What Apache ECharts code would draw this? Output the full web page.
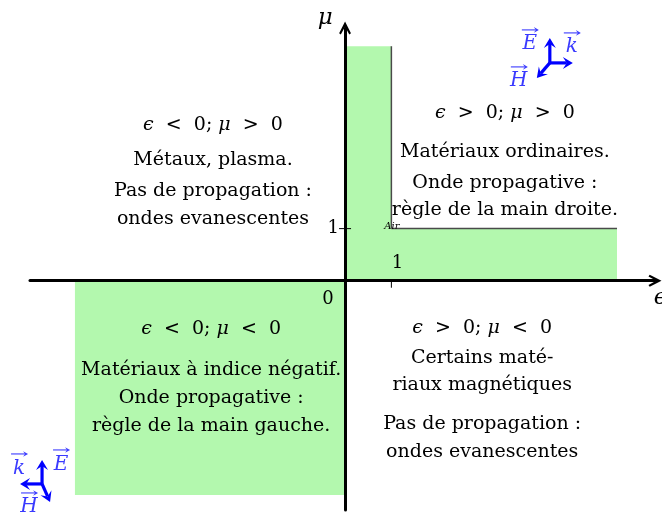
<!DOCTYPE html>
<html><head><meta charset="utf-8">
<script src="https://cdn.jsdelivr.net/npm/echarts@6/dist/echarts.min.js"></script>
<style>html,body{margin:0;padding:0;background:#fff}#c{width:662px;height:518px}</style>
</head><body><div id="c"></div>
<script>
// ---- data (in diagram units: x = epsilon, y = mu) ----
const xRange = [-6.8, 6.69];
const yRange = [-4.4, 4.85];
const greenRegions = [[0, 0, 1, 4.5], [0, 0, 5.87, 1], [-5.83, -4.11, 0, 0]];
const borderLines = [[1, 1, 1, 4.5], [1, 1, 5.87, 1]];
const conditionTexts = ['{i|ϵ}  <  0; {i|μ}  >  0', '{i|ϵ}  >  0; {i|μ}  >  0', '{i|ϵ}  <  0; {i|μ}  <  0', '{i|ϵ}  >  0; {i|μ}  <  0'];
const conditionPos = [[-2.85, 2.99], [3.45, 3.22], [-2.89, -0.93], [2.96, -0.91]];
const descriptionLines = [
  ['Métaux, plasma.', 'Pas de propagation :', 'ondes evanescentes'],
  ['Matériaux ordinaires.', 'Onde propagative :', 'règle de la main droite.'],
  ['Matériaux à indice négatif.', 'Onde propagative :', 'règle de la main gauche.'],
  ['Certains maté-', 'riaux magnétiques', 'Pas de propagation :', 'ondes evanescentes']
];
const descriptionY = [[2.32, 1.72, 1.18], [2.47, 1.88, 1.36], [-1.71, -2.25, -2.79], [-1.48, -2.0, -2.75, -3.29]];
const axisNames = [['μ', -0.43, 5.04], ['ϵ', 6.8, -0.33]];
const originLabel = ['0', -0.37, -0.35];
const tickLabels = [['1', 'y', 1], ['1', 'x', 1]];
const airLabel = ['Air', 1.01, 1.05];
const iconAnchors = [[4.42, 4.18, 'tr'], [-6.54, -3.90, 'bl']];

// ---- styles ----
const FONT = "'DejaVu Serif','Liberation Serif',serif";
const TXT = '#000';
const GREEN = '#b3f8ae';
const BLUE = '#0000ff';
const LBLUE = '#3a3aff';

const iconDefs = {
  tr: { arrows: [[0, -25], [23, 0], [-13, 15]],
        labels: [['E', -20, -19, -14], ['k', 22, -16, -14], ['H', -31, 18, -14]] },
  bl: { arrows: [[0, -24], [-22, 0], [8, 18]],
        labels: [['k', -23, -15, -15], ['E', 19, -19, -15], ['H', -13, 23, -14]] }
};

function arrowEls(ox, oy, tx, ty, color, w, hl, hw) {
  const dx = tx - ox, dy = ty - oy, L = Math.hypot(dx, dy);
  const ux = dx / L, uy = dy / L, px = -uy, py = ux;
  const bx = tx - ux * hl, by = ty - uy * hl;
  const nx = tx - ux * hl * 0.6, ny = ty - uy * hl * 0.6;
  return [
    { type: 'line', shape: { x1: ox, y1: oy, x2: nx, y2: ny }, style: { stroke: color, lineWidth: w } },
    { type: 'polygon', shape: { points: [[tx, ty], [bx + px * hw, by + py * hw], [nx, ny], [bx - px * hw, by - py * hw]] }, style: { fill: color } }
  ];
}

const textItems = [];
conditionTexts.forEach((t, i) => textItems.push({ pos: conditionPos[i], text: t, size: 19, align: 'center' }));
descriptionLines.forEach((lines, i) => lines.forEach((t, j) =>
  textItems.push({ pos: [conditionPos[i][0], descriptionY[i][j]], text: t, size: 19, align: 'center' })));
axisNames.forEach(a => textItems.push({ pos: [a[1], a[2]], text: '{i|' + a[0] + '}', size: 23, align: 'center' }));
textItems.push({ pos: [originLabel[1], originLabel[2]], text: originLabel[0], size: 18, align: 'center' });
textItems.push({ pos: [airLabel[1], airLabel[2]], text: '{s|' + airLabel[0] + '}', size: 10, align: 'center' });

const chart = echarts.init(document.getElementById('c'));
const arrowPath = 'path://M5,0 L10,10 L8.6,11 L5,4.5 L1.4,11 L0,10 Z';

chart.setOption({
  animation: false,
  grid: { left: 30, right: 7, top: 28, bottom: 8 },
  xAxis: {
    type: 'value', min: xRange[0], max: xRange[1], z: 10,
    axisLine: { onZero: true, lineStyle: { color: '#000', width: 3 }, symbol: ['none', arrowPath], symbolSize: [13, 13] },
    axisTick: { show: false }, axisLabel: { show: false }, splitLine: { show: false }
  },
  yAxis: {
    type: 'value', min: yRange[0], max: yRange[1], z: 10,
    axisLine: { onZero: true, lineStyle: { color: '#000', width: 3 }, symbol: ['none', arrowPath], symbolSize: [13, 13] },
    axisTick: { show: false }, axisLabel: { show: false }, splitLine: { show: false }
  },
  series: [
    {
      type: 'custom', z: 1, silent: true, clip: false,
      data: greenRegions,
      renderItem: (p, api) => {
        const a = api.coord([api.value(0), api.value(3)]);
        const b = api.coord([api.value(2), api.value(1)]);
        return { type: 'rect', shape: { x: a[0], y: a[1], width: b[0] - a[0], height: b[1] - a[1] }, style: { fill: GREEN } };
      }
    },
    {
      type: 'custom', z: 2, silent: true, clip: false,
      data: borderLines,
      renderItem: (p, api) => {
        const a = api.coord([api.value(0), api.value(1)]);
        const b = api.coord([api.value(2), api.value(3)]);
        return { type: 'line', shape: { x1: a[0], y1: a[1], x2: b[0], y2: b[1] }, style: { stroke: '#4a4a4a', lineWidth: 1.5 } };
      }
    },
    {
      type: 'custom', z: 12, silent: true, clip: false,
      data: tickLabels.map(t => [t[2]]),
      renderItem: (p, api) => {
        const t = tickLabels[p.dataIndex];
        if (t[1] === 'y') {
          const c = api.coord([0, t[2]]);
          return { type: 'group', children: [
            { type: 'line', shape: { x1: c[0] - 6, y1: c[1], x2: c[0] + 6, y2: c[1] }, style: { stroke: '#000', lineWidth: 1 } },
            { type: 'text', style: { x: c[0] - 6, y: c[1], text: t[0], font: '18px ' + FONT, fill: TXT, align: 'right', verticalAlign: 'middle' } }
          ] };
        }
        const c = api.coord([t[2], 0]);
        return { type: 'group', children: [
          { type: 'line', shape: { x1: c[0], y1: c[1], x2: c[0], y2: c[1] + 7 }, style: { stroke: '#000', lineWidth: 1 } },
          { type: 'text', style: { x: c[0] + 6, y: c[1] - 17, text: t[0], font: '18px ' + FONT, fill: TXT, align: 'center', verticalAlign: 'middle' } }
        ] };
      }
    },
    {
      type: 'custom', z: 20, silent: true, clip: false,
      data: textItems.map(t => t.pos),
      renderItem: (p, api) => {
        const t = textItems[p.dataIndex];
        const c = api.coord(t.pos);
        return { type: 'text', style: {
          x: c[0], y: c[1], text: t.text, font: t.size + 'px ' + FONT, fill: TXT,
          align: t.align, verticalAlign: 'middle',
          rich: {
            i: { fontStyle: 'italic', fontSize: t.size, fontFamily: FONT, fill: TXT },
            s: { fontStyle: 'italic', fontSize: t.size, fontFamily: FONT, fill: TXT }
          }
        } };
      }
    },
    {
      type: 'custom', z: 20, silent: true, clip: false,
      data: iconAnchors.map(a => [a[0], a[1]]),
      renderItem: (p, api) => {
        const def = iconDefs[iconAnchors[p.dataIndex][2]];
        const c = api.coord([api.value(0), api.value(1)]);
        let children = [];
        def.arrows.forEach(a => { children = children.concat(arrowEls(c[0], c[1], c[0] + a[0], c[1] + a[1], BLUE, 3.2, 10, 6)); });
        def.labels.forEach(l => {
          const lx = c[0] + l[1], ly = c[1] + l[2];
          children.push({ type: 'text', style: { x: lx, y: ly, text: l[0], font: 'italic 20px ' + FONT, fill: LBLUE, align: 'center', verticalAlign: 'middle' } });
          children = children.concat(arrowEls(lx - 8, ly + l[3], lx + 9, ly + l[3], LBLUE, 1.1, 5, 2.8));
        });
        return { type: 'group', children };
      }
    }
  ]
});
</script></body></html>
